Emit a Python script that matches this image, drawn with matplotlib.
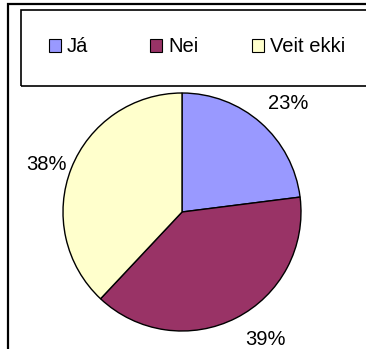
import matplotlib.pyplot as plt
from matplotlib.patches import Rectangle, Patch

labels = ['Já', 'Nei', 'Veit ekki']
shares = [23, 39, 38]
colors = ['#9999FF', '#993366', '#FFFFCC']

plt.rcParams['font.family'] = ['Liberation Sans', 'DejaVu Sans']

W, H = 366, 349
fig = plt.figure(figsize=(W / 100, H / 100), dpi=100)

# pie centred at (182, 212) px with radius 119 px
cx, cy, r = 182, 212, 119
ax = fig.add_axes([(cx - r) / W, (H - cy - r) / H, 2 * r / W, 2 * r / H])
wedges, _, pcts = ax.pie(shares, colors=colors, startangle=90, counterclock=False,
                         autopct='%1.0f%%', pctdistance=1.26,
                         wedgeprops=dict(edgecolor='black', linewidth=1.0),
                         textprops=dict(fontsize=14.5, color='black'))
ax.set_xlim(-1, 1)
ax.set_ylim(-1, 1)

# percentage labels sit just outside the rim, in radius units
label_pos = [(0.89, 0.91), (0.70, -1.07), (-1.14, 0.40)]
for t, p in zip(pcts, label_pos):
    t.set_position(p)
    t.set_clip_on(False)

# outer chart frame and legend box
fig.patches.append(Rectangle((8 / W, -0.1), 1.2, 1.1 - 4 / H, transform=fig.transFigure,
                             fill=False, edgecolor='black', linewidth=1.6, zorder=0))
fig.patches.append(Rectangle((21 / W, 1 - 86 / H), 1.2, 76 / H, transform=fig.transFigure,
                             fill=False, edgecolor='black', linewidth=1.2, zorder=0))

# legend entries on an even grid, one small legend per entry
entry_x = [49, 150, 252]
for c, lab, x in zip(colors, labels, entry_x):
    h = Patch(facecolor=c, edgecolor='black', linewidth=0.8)
    fig.legend([h], [lab], loc='center left', bbox_to_anchor=(x / W, 1 - 47 / H),
               frameon=False, fontsize=14.5, handlelength=0.6, handleheight=0.6,
               handletextpad=0.3, borderpad=0, borderaxespad=0)

fig.savefig('out.png', dpi=100)
